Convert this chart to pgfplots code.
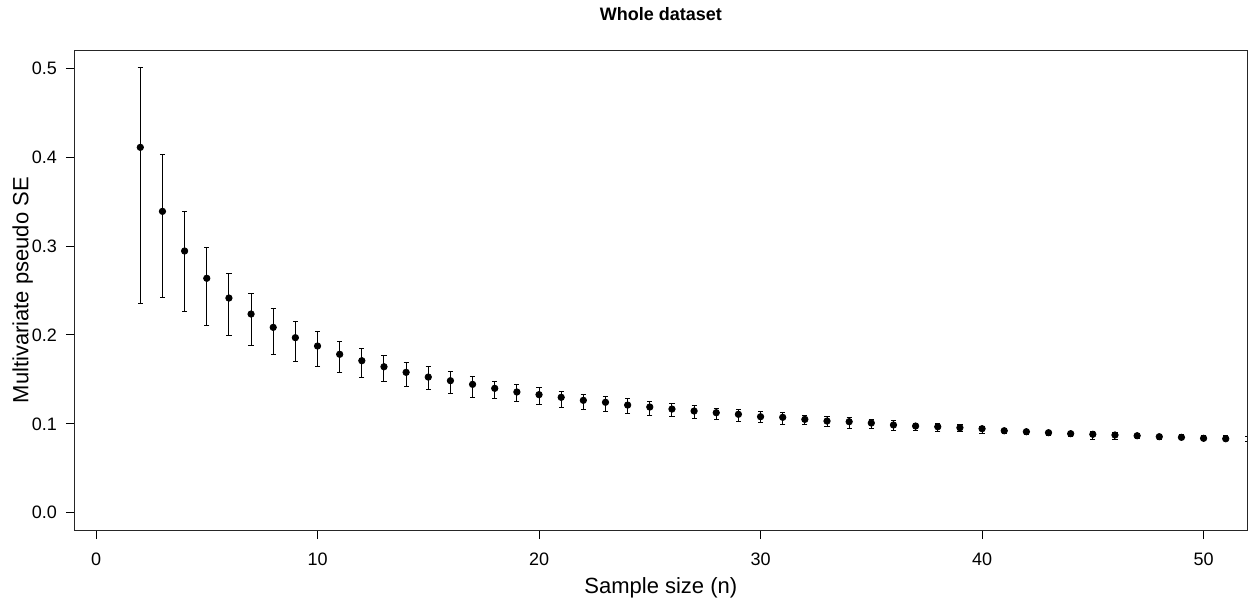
\documentclass[border=0pt]{standalone}
\usepackage{fontspec}
\setmainfont{Liberation Sans}
\usepackage{pgfplots}
\usepackage{pgfplotstable}
\pgfplotsset{compat=1.18}
\pgfplotstableread{
n y ep em
2 0.4110 0.0900 0.1755
3 0.3390 0.0645 0.0967
4 0.2944 0.0446 0.0679
5 0.2637 0.0341 0.0529
6 0.2415 0.0278 0.0427
7 0.2235 0.0233 0.0352
8 0.2085 0.0214 0.0308
9 0.1969 0.0184 0.0266
10 0.1875 0.0161 0.0233
11 0.1782 0.0146 0.0203
12 0.1710 0.0135 0.0187
13 0.1642 0.0128 0.0168
14 0.1579 0.0113 0.0157
15 0.1526 0.0116 0.0138
16 0.1485 0.0101 0.0139
17 0.1444 0.0090 0.0143
18 0.1399 0.0082 0.0117
19 0.1358 0.0082 0.0105
20 0.1328 0.0083 0.0109
21 0.1298 0.0068 0.0109
22 0.1264 0.0068 0.0101
23 0.1242 0.0063 0.0101
24 0.1211 0.0071 0.0093
25 0.1189 0.0060 0.0090
26 0.1166 0.0060 0.0086
27 0.1144 0.0064 0.0087
28 0.1125 0.0049 0.0075
29 0.1107 0.0056 0.0076
30 0.1080 0.0056 0.0063
31 0.1073 0.0056 0.0079
32 0.1050 0.0049 0.0063
33 0.1031 0.0053 0.0056
34 0.1024 0.0049 0.0075
35 0.1009 0.0037 0.0067
36 0.0987 0.0052 0.0060
37 0.0975 0.0034 0.0048
38 0.0967 0.0031 0.0051
39 0.0956 0.0031 0.0045
40 0.0945 0.0027 0.0049
41 0.0922 0.0027 0.0033
42 0.0911 0.0027 0.0029
43 0.0900 0.0030 0.0034
44 0.0889 0.0030 0.0034
45 0.0882 0.0029 0.0053
46 0.0874 0.0030 0.0048
47 0.0866 0.0027 0.0029
48 0.0855 0.0030 0.0029
49 0.0848 0.0029 0.0030
50 0.0837 0.0029 0.0027
51 0.0832 0.0031 0.0025
52 0.0826 0.0029 0.0026
}\datatable
\begin{document}
\begin{tikzpicture}
\useasboundingbox (-37.35pt,-35.85pt) rectangle (587.15pt,265.15pt);
\begin{axis}[
  at={(0pt,0pt)}, anchor=south west,
  scale only axis,
  width=586.15pt, height=240.15pt,
  xmin=-0.962, xmax=51.96,
  ymin=-0.0198, ymax=0.5205,
  xtick={0,10,20,30,40,50},
  ytick={0,0.1,0.2,0.3,0.4,0.5},
  yticklabel style={/pgf/number format/fixed, /pgf/number format/fixed zerofill, /pgf/number format/precision=1},
  /pgf/number format/assume math mode=true,
  xtick pos=bottom, ytick pos=left,
  tick align=outside,
  major tick length=4.35pt,
  every tick/.style={black, line width=0.5pt},
  axis line style={line width=0.5pt, black!85},
  tick label style={font=\fontsize{9}{10}\selectfont},
  xticklabel style={anchor=north, yshift=-3.5pt},
  yticklabel style={anchor=east, xshift=-1pt},
  title={Whole dataset},
  title style={at={(axis description cs:0.5,1.061)}, anchor=base, yshift=-6pt, font=\bfseries\fontsize{9}{11}\selectfont},
  xlabel={Sample size (n)},
  xlabel style={at={(axis description cs:0.5,-0.1316)}, anchor=base, font=\fontsize{11}{13}\selectfont},
  ylabel={Multivariate pseudo SE},
  ylabel style={at={(axis description cs:-0.0396,0.5)}, anchor=base, font=\fontsize{11}{13}\selectfont},
  clip marker paths=true,
]
\addplot[only marks, mark=*, mark size=1.6pt, black,
  error bars/.cd, y dir=both, y explicit,
  error bar style={line width=0.5pt, black},
  error mark options={rotate=90, mark size=1.3pt, line width=0.5pt, black}]
  table[x=n, y=y, y error plus=ep, y error minus=em] {\datatable};
\end{axis}
\end{tikzpicture}
\end{document}
